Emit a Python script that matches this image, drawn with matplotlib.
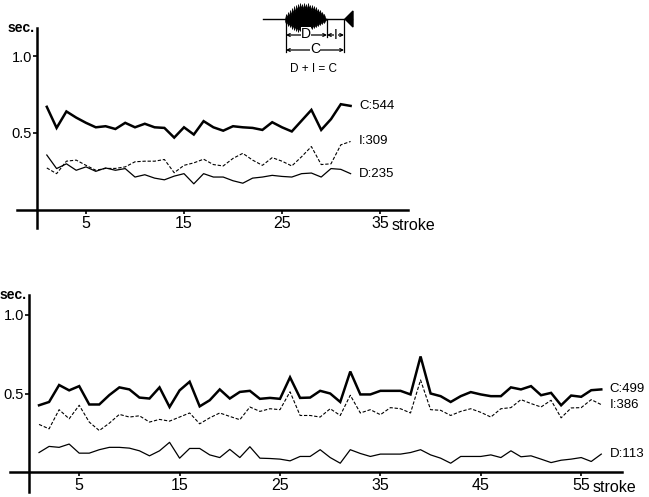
import matplotlib
matplotlib.use("Agg")
import matplotlib.pyplot as plt
import numpy as np

plt.rcParams['font.family'] = ['Liberation Sans', 'DejaVu Sans']

# ---------------- data ----------------
top_strokes = list(range(1, 33))
top_C = [0.67, 0.533, 0.64, 0.60, 0.566, 0.537, 0.544, 0.526, 0.566, 0.537, 0.56, 0.537,
         0.533, 0.47, 0.537, 0.49, 0.577, 0.537, 0.515, 0.544, 0.537, 0.533, 0.52, 0.57,
         0.537, 0.51, 0.58, 0.65, 0.52, 0.59, 0.687, 0.676]
top_I = [0.273, 0.236, 0.317, 0.324, 0.29, 0.258, 0.27, 0.27, 0.28, 0.313, 0.317, 0.317,
         0.328, 0.242, 0.29, 0.306, 0.33, 0.295, 0.286, 0.335, 0.368, 0.324, 0.29, 0.34,
         0.317, 0.286, 0.346, 0.412, 0.295, 0.30, 0.423, 0.445]
top_D = [0.357, 0.269, 0.30, 0.258, 0.28, 0.251, 0.273, 0.258, 0.269, 0.214, 0.229, 0.207,
         0.196, 0.22, 0.236, 0.17, 0.236, 0.214, 0.214, 0.19, 0.174, 0.207, 0.214, 0.225,
         0.218, 0.214, 0.236, 0.24, 0.214, 0.269, 0.264, 0.236]
top_labels = ["C:544", "I:309", "D:235"]
top_xticks = [5, 15, 25, 35]

bot_strokes = list(range(1, 58))
bot_C = [0.425, 0.446, 0.554, 0.52, 0.547, 0.43, 0.43, 0.49, 0.539, 0.526, 0.474, 0.468,
         0.539, 0.414, 0.52, 0.575, 0.418, 0.457, 0.526, 0.468, 0.51, 0.517, 0.466, 0.472,
         0.466, 0.603, 0.472, 0.474, 0.517, 0.5, 0.446,
         0.64, 0.494, 0.494, 0.517, 0.517, 0.517, 0.494, 0.736, 0.5, 0.483, 0.446, 0.483,
         0.509, 0.494, 0.483, 0.483, 0.539, 0.526, 0.547, 0.489, 0.504, 0.425, 0.487,
         0.479, 0.521, 0.526]
bot_I = [0.303, 0.275, 0.397, 0.339, 0.425, 0.318, 0.264, 0.311, 0.367, 0.35, 0.358, 0.318,
         0.335, 0.324, 0.35, 0.376, 0.307, 0.345, 0.376, 0.354, 0.333, 0.414, 0.386, 0.403,
         0.397, 0.511, 0.36, 0.36, 0.35, 0.403, 0.36,
         0.489, 0.376, 0.397, 0.365, 0.41, 0.403, 0.376, 0.586, 0.397, 0.393, 0.36, 0.386,
         0.403, 0.38, 0.35, 0.403, 0.41, 0.461, 0.436, 0.414, 0.457, 0.345, 0.408, 0.41,
         0.461, 0.429]
bot_D = [0.124, 0.163, 0.157, 0.178, 0.12, 0.12, 0.142, 0.157, 0.157, 0.152, 0.135, 0.103,
         0.135, 0.189, 0.088, 0.15, 0.15, 0.109, 0.092, 0.144, 0.092, 0.161, 0.088, 0.086,
         0.082, 0.071, 0.099, 0.099, 0.142, 0.092, 0.056,
         0.142, 0.118, 0.099, 0.114, 0.114, 0.114, 0.124, 0.142, 0.109, 0.088, 0.056, 0.099,
         0.099, 0.099, 0.109, 0.092, 0.135, 0.097, 0.103, 0.082, 0.06, 0.075, 0.082, 0.092,
         0.067, 0.114]
bot_labels = ["C:499", "I:386", "D:113"]
bot_xticks = [5, 15, 25, 35, 45, 55]
yticks = [0.5, 1.0]

# inset waveform schematic (image-pixel coordinates)
wave_x = [285, 286, 287, 288, 289, 290, 291, 292, 293, 294, 295, 296, 297, 298, 299, 300,
          301, 302, 303, 304, 305, 306, 307, 308, 309, 310, 311, 312, 313, 314, 315, 316,
          317, 318, 319, 320, 321, 322, 323, 324, 325, 326]
wave_up = [19, 14, 17, 12, 16, 10, 15, 8, 13, 6, 12, 5, 10, 4, 9, 3, 8, 4, 9, 3, 8, 4, 9,
           3, 8, 5, 10, 5, 10, 6, 11, 7, 12, 9, 13, 10, 14, 12, 15, 14, 17, 19]
wave_lo = [21, 24, 22, 26, 23, 27, 24, 29, 25, 30, 26, 31, 27, 32, 28, 31, 27, 32, 28, 31,
           27, 31, 28, 30, 27, 30, 26, 29, 25, 28, 25, 27, 24, 26, 23, 25, 22, 24, 21, 23, 21, 20]

# ---------------- figure ----------------
W, H = 649, 497
fig = plt.figure(figsize=(W / 100, H / 100), dpi=100)


def panel(rect, xlim, ylim, strokes, C, I, D, labels, xticks, xb, yb):
    ax = fig.add_axes(rect)
    ax.set_xlim(*xlim)
    ax.set_ylim(*ylim)
    ax.patch.set_alpha(0)
    for s in ['top', 'right']:
        ax.spines[s].set_visible(False)
    ax.spines['left'].set_position(('data', 0))
    ax.spines['bottom'].set_position(('data', 0))
    ax.spines['left'].set_bounds(*yb)
    ax.spines['bottom'].set_bounds(*xb)
    for s in ['left', 'bottom']:
        ax.spines[s].set_linewidth(1.8)
    ax.plot(strokes, C, color='black', lw=1.8, solid_joinstyle='miter')
    ax.plot(strokes, I, color='black', lw=0.8, dashes=(3, 1.6))
    ax.plot(strokes, D, color='black', lw=0.9)
    for lab, ser in zip(labels, [C, I, D]):
        ax.annotate(lab, xy=(strokes[-1], ser[-1]), xytext=(6, 0),
                    textcoords='offset points', va='center', ha='left', fontsize=9.5)
    ax.set_xticks(xticks)
    ax.set_xticklabels([str(t) for t in xticks], fontsize=11.5)
    ax.set_yticks(yticks)
    ax.set_yticklabels(['%.1f' % t for t in yticks], fontsize=10.5)
    ax.tick_params(axis='x', direction='out', length=3, width=1.2, pad=1.5)
    ax.tick_params(axis='y', direction='out', length=3, width=1.2, pad=0.5)
    ax.annotate('stroke', xy=(xticks[-1], 0), xytext=(8, -11), textcoords='offset points',
                ha='left', va='center', fontsize=11.5)
    ax.annotate('sec.', xy=(0, yb[1]), xytext=(-1.5, 0), textcoords='offset points',
                ha='right', va='center', fontsize=10, fontweight='bold')
    return ax


# top panel: y=0 at image px 210, 154 px per second; x=0 at px 37, 9.8 px/stroke
top_rect = [0, 1 - 250 / H, 1, 250 / H]
top_xlim = (-37 / 9.8, (W - 37) / 9.8)
top_ylim = ((210 - 250) / 154, 210 / 154)
panel(top_rect, top_xlim, top_ylim, top_strokes, top_C, top_I, top_D, top_labels,
      top_xticks, xb=(-2.0, 37.9), yb=(-0.12, 1.18))

# bottom panel: y=0 at px 472 (image), 157 px per second; x=0 at px 29, 10.04 px/stroke
bot_rect = [0, 0, 1, 250 / H]
bot_xlim = (-29 / 10.04, (W - 29) / 10.04)
bot_ylim = ((472 - 497) / 157, (472 - 247) / 157)
panel(bot_rect, bot_xlim, bot_ylim, bot_strokes, bot_C, bot_I, bot_D, bot_labels,
      bot_xticks, xb=(-1.9, 59.1), yb=(-0.13, 1.13))

# ---------------- inset schematic ----------------
ins = fig.add_axes([255 / W, 1 - 80 / H, 110 / W, 80 / H])
ins.set_xlim(255, 365)
ins.set_ylim(80, 0)
ins.axis('off')
ins.plot([263, 352], [19, 19], color='black', lw=1.0)
ins.fill_between(wave_x, wave_up, wave_lo, color='black', lw=0.4)
ins.fill([345, 353, 353], [19, 11, 27], color='black')
# dimension lines
ins.plot([286, 286], [19, 52], color='black', lw=0.9)
ins.plot([327, 327], [19, 37], color='black', lw=0.9)
ins.plot([344, 344], [19, 52], color='black', lw=0.9)
arrow = dict(arrowstyle='<->', lw=0.9, color='black', shrinkA=0, shrinkB=0, mutation_scale=5)
ins.annotate('', xy=(286, 35), xytext=(327, 35), arrowprops=arrow)
ins.annotate('', xy=(327, 35), xytext=(344, 35), arrowprops=arrow)
ins.annotate('', xy=(286, 50), xytext=(344, 50), arrowprops=arrow)
ins.text(306, 34, 'D', ha='center', va='center', fontsize=10,
         bbox=dict(fc='white', ec='none', pad=0.3))
ins.text(336, 35, 'I', ha='center', va='center', fontsize=10,
         bbox=dict(fc='white', ec='none', pad=0.3))
ins.text(315, 49, 'C', ha='center', va='center', fontsize=10,
         bbox=dict(fc='white', ec='none', pad=0.3))
ins.text(314, 69, 'D + I = C', ha='center', va='center', fontsize=8.5)

fig.savefig('out.png', dpi=100)
